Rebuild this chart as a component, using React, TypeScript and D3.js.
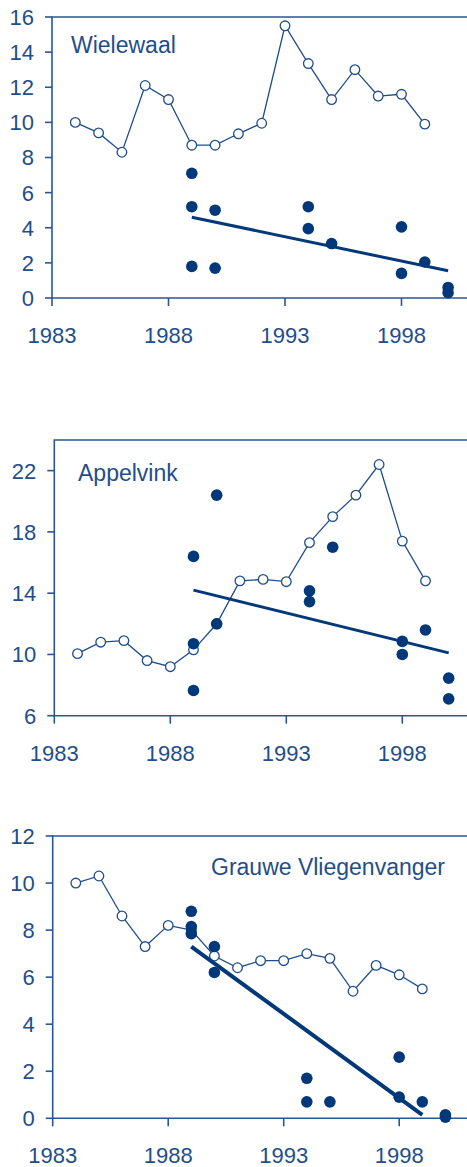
import React from "react";
import * as d3 from "d3";

// ---- data ----
const years = [1984, 1985, 1986, 1987, 1988, 1989, 1990, 1991, 1992, 1993, 1994, 1995, 1996, 1997, 1998, 1999];
const xTickYears = [1983, 1988, 1993, 1998];

const wielewaalIndex = [10.0, 9.4, 8.3, 12.1, 11.3, 8.7, 8.7, 9.35, 9.95, 15.5, 13.35, 11.3, 13.0, 11.5, 11.6, 9.9];
const wielewaalPtYears = [1989, 1989, 1989, 1990, 1990, 1994, 1994, 1995, 1998, 1998, 1999, 2000, 2000];
const wielewaalPtValues = [7.1, 5.2, 1.8, 5.0, 1.7, 5.2, 3.95, 3.1, 4.05, 1.4, 2.05, 0.6, 0.3];
const wielewaalTrendYears = [1989, 2000];
const wielewaalTrendValues = [4.6, 1.55];
const wielewaalTicks = [0, 2, 4, 6, 8, 10, 12, 14, 16];

const appelvinkIndex = [10.05, 10.8, 10.9, 9.6, 9.2, 10.3, 12.0, 14.8, 14.9, 14.75, 17.3, 19.0, 20.4, 22.4, 17.4, 14.8];
const appelvinkPtYears = [1989, 1989, 1989, 1990, 1990, 1994, 1994, 1995, 1998, 1998, 1999, 2000, 2000];
const appelvinkPtValues = [16.4, 10.7, 7.65, 20.4, 12.0, 14.15, 13.45, 17.0, 10.85, 10.0, 11.6, 8.45, 7.1];
const appelvinkTrendYears = [1989, 2000];
const appelvinkTrendValues = [14.2, 10.1];
const appelvinkTicks = [6, 10, 14, 18, 22];

const grauweIndex = [10.0, 10.3, 8.6, 7.3, 8.2, 8.0, 6.9, 6.4, 6.7, 6.7, 7.0, 6.8, 5.4, 6.5, 6.1, 5.5];
const grauwePtYears = [1989, 1989, 1989, 1990, 1990, 1994, 1994, 1995, 1998, 1998, 1999, 2000, 2000];
const grauwePtValues = [8.8, 8.15, 7.85, 7.3, 6.2, 1.7, 0.7, 0.7, 2.6, 0.9, 0.7, 0.15, 0.05];
const grauweTrendYears = [1989, 1999];
const grauweTrendValues = [7.3, 0.15];
const grauweTicks = [0, 2, 4, 6, 8, 10, 12];

const FRAME = "#2a5599";
const TEXT = "#1f4e8c";
const LINE = "#1f4e8c";
const DOT = "#00387a";
const FONT = "'Liberation Sans', Arial, sans-serif";

type PanelProps = {
  title: string;
  titleX: number;
  titleY: number;
  index: number[];
  ptYears: number[];
  ptValues: number[];
  trendYears: number[];
  trendValues: number[];
  yDomain: [number, number];
  yTicks: number[];
  left: number;
  top: number;
  bottom: number;
  pxPerYear: number;
  trendWidth: number;
};

function Panel(p: PanelProps) {
  const x = d3.scaleLinear().domain([1983, 2001]).range([p.left, p.left + 18 * p.pxPerYear]);
  const y = d3.scaleLinear().domain(p.yDomain).range([p.bottom, p.top]);
  const line = d3
    .line<number>()
    .x((_, i) => x(years[i]))
    .y((d) => y(d));
  const trend = d3
    .line<number>()
    .x((_, i) => x(p.trendYears[i]))
    .y((d) => y(d));
  const right = 480;
  return (
    <g>
      {/* frame */}
      <path
        d={`M${right},${p.top}H${p.left}V${p.bottom}H${right}`}
        fill="none"
        stroke={FRAME}
        strokeWidth={1.6}
      />
      {/* y ticks */}
      {p.yTicks.map((t) => (
        <g key={"y" + t}>
          <line x1={p.left - 7} x2={p.left} y1={y(t)} y2={y(t)} stroke={FRAME} strokeWidth={1.6} />
          <text
            x={p.left - 18}
            y={y(t)}
            dy="0.36em"
            textAnchor="end"
            fontSize={22}
            fontFamily={FONT}
            fill={TEXT}
          >
            {t}
          </text>
        </g>
      ))}
      {/* x ticks */}
      {xTickYears.map((t) => (
        <g key={"x" + t}>
          <line x1={x(t)} x2={x(t)} y1={p.bottom} y2={p.bottom + 8} stroke={FRAME} strokeWidth={1.6} />
          <text
            x={x(t)}
            y={p.bottom + 37}
            dy="0.36em"
            textAnchor="middle"
            fontSize={22}
            fontFamily={FONT}
            fill={TEXT}
          >
            {t}
          </text>
        </g>
      ))}
      {/* index series */}
      <path d={line(p.index) || ""} fill="none" stroke={LINE} strokeWidth={1.3} />
      {p.index.map((v, i) => (
        <circle key={"o" + i} cx={x(years[i])} cy={y(v)} r={4.8} fill="#fff" stroke={LINE} strokeWidth={1.3} />
      ))}
      {/* observed points */}
      {p.ptValues.map((v, i) => (
        <circle key={"f" + i} cx={x(p.ptYears[i])} cy={y(v)} r={5.8} fill={DOT} />
      ))}
      {/* trend */}
      <path d={trend(p.trendValues) || ""} fill="none" stroke={DOT} strokeWidth={p.trendWidth} />
      <text x={p.titleX} y={p.titleY} fontSize={23} fontFamily={FONT} fill={TEXT}>
        {p.title}
      </text>
    </g>
  );
}

export default function App() {
  return (
    <svg
      width={467}
      height={1167}
      style={{ position: "absolute", left: 0, top: 0, background: "#fff" }}
    >
      <rect width={467} height={1167} fill="#fff" />
      <Panel
        title="Wielewaal"
        titleX={71}
        titleY={53}
        index={wielewaalIndex}
        ptYears={wielewaalPtYears}
        ptValues={wielewaalPtValues}
        trendYears={wielewaalTrendYears}
        trendValues={wielewaalTrendValues}
        yDomain={[0, 16]}
        yTicks={wielewaalTicks}
        left={52}
        top={17}
        bottom={298}
        pxPerYear={23.3}
        trendWidth={3}
      />
      <Panel
        title="Appelvink"
        titleX={78}
        titleY={481}
        index={appelvinkIndex}
        ptYears={appelvinkPtYears}
        ptValues={appelvinkPtValues}
        trendYears={appelvinkTrendYears}
        trendValues={appelvinkTrendValues}
        yDomain={[6, 24]}
        yTicks={appelvinkTicks}
        left={54.3}
        top={440}
        bottom={715.7}
        pxPerYear={23.2}
        trendWidth={3}
      />
      <Panel
        title="Grauwe Vliegenvanger"
        titleX={211}
        titleY={875}
        index={grauweIndex}
        ptYears={grauwePtYears}
        ptValues={grauwePtValues}
        trendYears={grauweTrendYears}
        trendValues={grauweTrendValues}
        yDomain={[0, 12]}
        yTicks={grauweTicks}
        left={52.7}
        top={836}
        bottom={1118.3}
        pxPerYear={23.1}
        trendWidth={4}
      />
    </svg>
  );
}
